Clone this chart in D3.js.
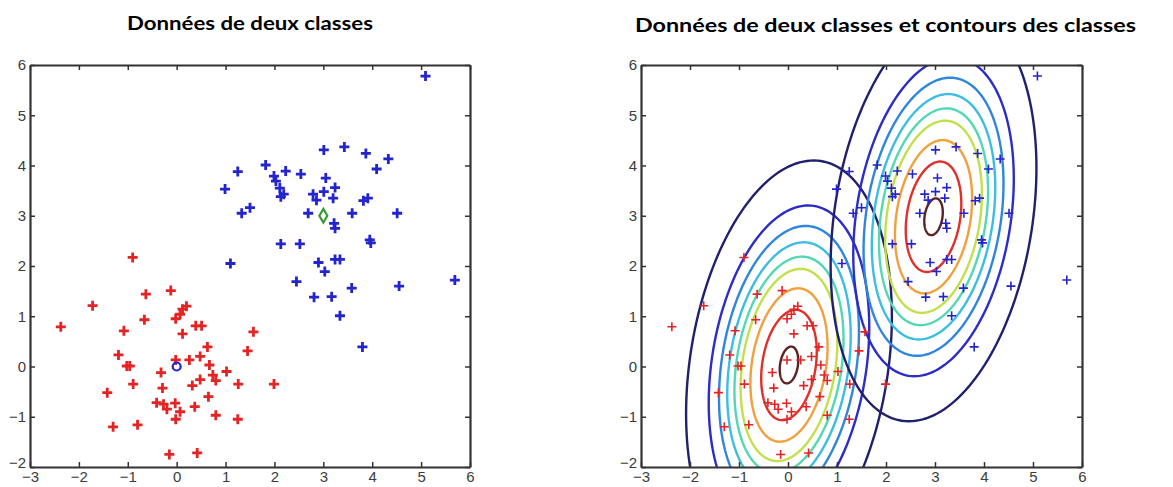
<!DOCTYPE html>
<html lang="fr">
<head>
<meta charset="UTF-8">
<title>Données de deux classes</title>
<script src="https://d3js.org/d3.v7.min.js"></script>
<style>
  body { margin: 0; background: #fff; }
  .title { font-family: Lato, "Open Sans", sans-serif; font-weight: bold; font-size: 19px; fill: #000; }
</style>
</head>
<body>
<svg id="chart" width="1173" height="487"></svg>
<script>
// class 1 (red) points
const class1 = [
  [-0.90, 2.17], [-1.72, 1.21], [-2.37, 0.79], [-0.63, 1.44], [-0.12, 1.51], [-0.66, 0.93],
  [-1.08, 0.71], [0.12, 1.14], [0.20, 1.20], [0.07, 1.04], [-0.02, 0.95], [0.39, 0.81],
  [0.51, 0.81], [0.12, 0.65], [1.57, 0.69], [-1.19, 0.23], [-1.02, 0.01], [-0.96, 0.01],
  [-0.02, 0.13], [0.26, 0.13], [0.48, 0.20], [0.63, 0.39], [0.67, 0.03], [1.45, 0.31],
  [-0.32, -0.12], [-0.89, -0.35], [-1.42, -0.52], [0.32, -0.38], [0.48, -0.26], [0.74, -0.17],
  [0.80, -0.28], [1.02, -0.10], [1.26, -0.35], [1.99, -0.35], [0.65, -0.60], [-0.29, -0.43],
  [-0.41, -0.72], [-0.27, -0.75], [-0.20, -0.85], [-0.03, -0.73], [0.07, -0.90], [0.37, -0.80],
  [0.80, -0.97], [1.25, -1.05], [-0.02, -1.05], [-1.30, -1.20], [-0.80, -1.16], [-0.15, -1.75],
  [0.42, -1.72]
];

// class 2 (blue) points
const class2 = [
  [5.09, 5.78], [3.01, 4.31], [3.43, 4.37], [3.87, 4.24], [4.33, 4.13], [4.09, 3.93],
  [1.25, 3.88], [1.82, 4.01], [2.23, 3.89], [2.54, 3.83], [1.99, 3.79], [2.03, 3.69],
  [2.11, 3.55], [2.19, 3.43], [2.13, 3.38], [0.99, 3.53], [3.05, 3.75], [3.24, 3.56],
  [2.79, 3.43], [2.86, 3.31], [3.01, 3.48], [3.20, 3.35], [3.82, 3.30], [3.91, 3.35],
  [1.33, 3.05], [1.50, 3.16], [2.69, 3.05], [3.59, 3.05], [4.51, 3.05], [3.22, 2.85],
  [3.24, 2.75], [2.13, 2.44], [2.52, 2.44], [3.95, 2.52], [3.97, 2.46], [1.10, 2.05],
  [2.90, 2.07], [3.03, 1.89], [3.24, 2.13], [3.34, 2.13], [2.45, 1.69], [2.81, 1.38],
  [3.17, 1.39], [3.58, 1.56], [3.34, 1.01], [4.55, 1.60], [5.69, 1.72], [3.80, 0.39]
];

// class centres (left panel markers)
const centre1 = [0, 0];
const centre2 = [3, 3];

// gaussian contours: means, shared covariance (of the outer contour), relative radii
const means = [[0.02, 0.03], [2.97, 2.98]];
const outerCov = [[4.41, 2.04], [2.04, 16.56]];
const levelRadii = [1, 0.78, 0.68, 0.60, 0.53, 0.47, 0.375, 0.27, 0.09];
const levelColors = ["#20206e", "#2c2cc8", "#2f86dc", "#3cbde2", "#52d8b4",
                     "#c2e04c", "#f0a03c", "#e0302c", "#5a2424"];

const xTicks = [-3, -2, -1, 0, 1, 2, 3, 4, 5, 6];
const yTicks = [-2, -1, 0, 1, 2, 3, 4, 5, 6];
const titles = ["Données de deux classes", "Données de deux classes et contours des classes"];

const svg = d3.select("#chart");

const panels = [
  {left: 30, right: 470, contours: false, title: titles[0], tx: 250, ty: 30, tw: 246, mw: 2.8, ms: 5},
  {left: 641, right: 1082, contours: true, title: titles[1], tx: 885.5, ty: 32, tw: 501, mw: 1.6, ms: 4.5}
];
const plotTop = 65, plotBottom = 467;

function plus(s) { return `M${-s},0H${s}M0,${-s}V${s}`; }

// axis styling: thick dark frame, larger grey labels
function styleAxis(sel) {
  sel.selectAll("path.domain").attr("stroke", "#333").attr("stroke-width", 2.2);
  sel.selectAll(".tick line").attr("stroke", "#333").attr("stroke-width", 1.5);
  sel.selectAll(".tick text")
    .attr("font-family", "'Liberation Sans', Arial, sans-serif")
    .attr("font-size", 15)
    .attr("fill", "#3c3c3c");
}

panels.forEach((p, i) => {
  const x = d3.scaleLinear().domain([-3, 6]).range([p.left, p.right]);
  const y = d3.scaleLinear().domain([-2, 6]).range([plotBottom, plotTop]);

  svg.append("text")
    .attr("class", "title")
    .attr("x", p.tx).attr("y", p.ty)
    .attr("text-anchor", "middle")
    .attr("textLength", p.tw)
    .attr("lengthAdjust", "spacingAndGlyphs")
    .text(p.title);

  const g = svg.append("g");

  svg.append("clipPath").attr("id", "clip" + i)
    .append("rect")
    .attr("x", p.left).attr("y", plotTop)
    .attr("width", p.right - p.left).attr("height", plotBottom - plotTop);

  if (p.contours) {
    // cholesky of the covariance -> ellipse
    const a = outerCov[0][0], b = outerCov[0][1], c = outerCov[1][1];
    const l11 = Math.sqrt(a), l21 = b / l11, l22 = Math.sqrt(c - l21 * l21);
    const angles = d3.range(0, 2 * Math.PI, Math.PI / 90);
    const line = d3.line().x(d => x(d[0])).y(d => y(d[1])).curve(d3.curveLinearClosed);
    const cg = g.append("g").attr("clip-path", `url(#clip${i})`);
    means.forEach(m => {
      levelRadii.forEach((r, k) => {
        const pts = angles.map(t => {
          const u = r * Math.cos(t), v = r * Math.sin(t);
          return [m[0] + l11 * u, m[1] + l21 * u + l22 * v];
        });
        cg.append("path")
          .attr("d", line(pts))
          .attr("fill", "none")
          .attr("stroke", levelColors[k])
          .attr("stroke-width", 2.4);
      });
    });
  }

  const pg = g.append("g").attr("clip-path", `url(#clip${i})`);
  pg.selectAll(".c1").data(class1).join("path")
    .attr("transform", d => `translate(${x(d[0])},${y(d[1])})`)
    .attr("d", plus(p.ms))
    .attr("stroke", "#e42424")
    .attr("stroke-width", p.mw)
    .attr("fill", "none");
  pg.selectAll(".c2").data(class2).join("path")
    .attr("transform", d => `translate(${x(d[0])},${y(d[1])})`)
    .attr("d", plus(p.ms))
    .attr("stroke", "#2424cc")
    .attr("stroke-width", p.mw)
    .attr("fill", "none");

  if (!p.contours) {
    pg.append("circle")
      .attr("cx", x(centre1[0])).attr("cy", y(centre1[1]))
      .attr("r", 4)
      .attr("fill", "none").attr("stroke", "#2424cc").attr("stroke-width", 2.2);
    pg.append("path")
      .attr("transform", `translate(${x(centre2[0])},${y(centre2[1])})`)
      .attr("d", d3.symbol(d3.symbolDiamond, 55)())
      .attr("fill", "none").attr("stroke", "#3a9a3a").attr("stroke-width", 2.2);
  }

  // box axes with inward ticks
  svg.append("g")
    .attr("transform", `translate(0,${plotBottom})`)
    .call(d3.axisBottom(x).tickValues(xTicks).tickSizeInner(-5).tickSizeOuter(0).tickPadding(4))
    .call(styleAxis);
  svg.append("g")
    .attr("transform", `translate(0,${plotTop})`)
    .call(d3.axisTop(x).tickValues(xTicks).tickSizeInner(-5).tickSizeOuter(0).tickFormat(""))
    .call(styleAxis);
  const yAxis = svg.append("g")
    .attr("transform", `translate(${p.left},0)`)
    .call(d3.axisLeft(y).tickValues(yTicks).tickSizeInner(-5).tickSizeOuter(0).tickPadding(4))
    .call(styleAxis);
  // lift the lowest y label a bit so it clears the first x label
  yAxis.selectAll(".tick text").filter(d => d === yTicks[0]).attr("dy", "0.05em");
  svg.append("g")
    .attr("transform", `translate(${p.right},0)`)
    .call(d3.axisRight(y).tickValues(yTicks).tickSizeInner(-5).tickSizeOuter(0).tickFormat(""))
    .call(styleAxis);
});
</script>
</body>
</html>
